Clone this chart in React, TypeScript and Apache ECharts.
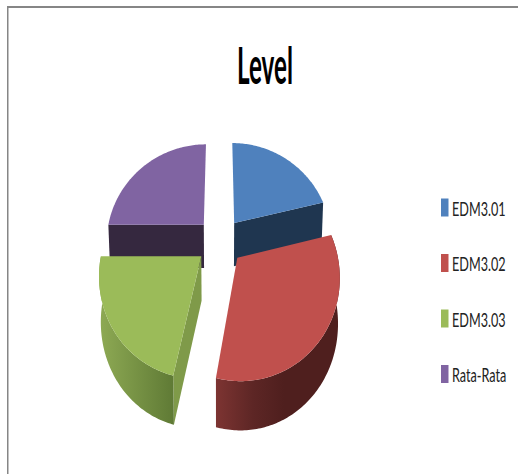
import React, { useEffect, useRef } from "react";
import * as echarts from "echarts";

const titleText = "Level";
const categories = ["EDM3.01", "EDM3.02", "EDM3.03", "Rata-Rata"];
const values = [21.3, 32, 21.7, 25];
const topColors = ["#4f81bd", "#c0504d", "#9bbb59", "#8064a2"];
const drawOrder = [3, 0, 2, 1];

const font = 'Lato, "Open Sans", sans-serif';
const total = values.reduce((a, b) => a + b, 0);
const CX = 220, CY = 241, RX = 98, RY = 97.9, P = 0.158, EXPLODE = 0.24;

function project(u: number, v: number): number[] {
  const d = 1 - P * v;
  return [CX + (RX * u) / d, CY + (RY * v) / d];
}
function lower(u: number, v: number): number[] {
  const [x, y] = project(u, v);
  return [CX + (x - CX) * 0.985, y + 44 + 4.5 * v];
}
function dir(deg: number): number[] {
  const a = (deg * Math.PI) / 180;
  return [Math.sin(a), -Math.cos(a)];
}

function wallFill(i: number): any {
  if (i === 1)
    return new echarts.graphic.LinearGradient(0, 0, 1, 0, [
      { offset: 0, color: "#7d3432" },
      { offset: 0.3, color: "#5d2625" },
      { offset: 0.55, color: "#4f1f1e" },
      { offset: 1, color: "#4f1f1e" },
    ]);
  if (i === 2)
    return new echarts.graphic.LinearGradient(0, 0, 1, 0, [
      { offset: 0, color: "#8eaa54" },
      { offset: 1, color: "#5f7a35" },
    ]);
  return i === 0 ? "#1f3650" : "#35283f";
}

function renderSlice(i: number) {
  return (_params: any, api: any) => {
    const val = api.value(0);
    const before = values.slice(0, i).reduce((a, b) => a + b, 0);
    const start = (before / total) * 360;
    const end = start + (val / total) * 360;
    const [ou, ov] = dir((start + end) / 2);
    const cu = ou * EXPLODE, cv = ov * EXPLODE;
    const rim: number[][] = [];
    const steps = Math.ceil(end - start);
    for (let s = 0; s <= steps; s++) {
      const [du, dv] = dir(start + ((end - start) * s) / steps);
      rim.push([cu + du, cv + dv]);
    }
    const topRim = rim.map(([u, v]) => project(u, v));
    const lowRim = rim.map(([u, v]) => lower(u, v));
    const apexTop = project(cu, cv);
    const apexLow = lower(cu, cv);
    const last = rim.length - 1;
    const children: any[] = [];
    // only the cut faces that turn towards the viewer
    if (i === 2 || i === 3) {
      children.push({
        type: "polygon",
        shape: { points: [apexTop, topRim[0], lowRim[0], apexLow] },
        style: { fill: i === 2 ? "#7f9a49" : "#35283f" },
      });
    }
    if (i === 0) {
      children.push({
        type: "polygon",
        shape: { points: [apexTop, topRim[last], lowRim[last], apexLow] },
        style: { fill: "#1f3650" },
      });
    }
    if (i === 1 || i === 2) {
      children.push({
        type: "polygon",
        shape: { points: topRim.concat(lowRim.slice().reverse()) },
        style: { fill: wallFill(i) },
      });
    }
    children.push({
      type: "polygon",
      shape: { points: [apexTop].concat(topRim) },
      style: { fill: topColors[i] },
    });
    return { type: "group", children };
  };
}

const legendY = [207.5, 263, 318.5, 374];

export default function App() {
  const ref = useRef<HTMLDivElement>(null);
  useEffect(() => {
    const chart = echarts.init(ref.current!, undefined, { renderer: "svg" });
    chart.setOption({
      animation: false,
      backgroundColor: "#ffffff",
      graphic: [
        { type: "rect", silent: true, shape: { x: 7, y: 6, width: 511, height: 2 }, style: { fill: "#868686" } },
        { type: "rect", silent: true, shape: { x: 7, y: 6, width: 1.5, height: 468 }, style: { fill: "#868686" } },
        {
          type: "text",
          x: 265,
          y: 64,
          scaleX: 0.93,
          scaleY: 2,
          style: {
            text: titleText,
            fill: "#000000",
            font: `bold 26px ${font}`,
            textAlign: "center",
            textVerticalAlign: "middle",
          },
        },
        ...categories.flatMap((name, i) => [
          {
            type: "rect",
            silent: true,
            shape: { x: 441, y: legendY[i] - 9, width: 7.5, height: 18 },
            style: { fill: topColors[i] },
          },
          {
            type: "text",
            x: 452,
            y: legendY[i] + 1,
            scaleX: 0.79,
            scaleY: 1.22,
            style: {
              text: name,
              fill: "#222222",
              font: `16px ${font}`,
              textAlign: "left",
              textVerticalAlign: "middle",
            },
          },
        ]),
      ],
      series: drawOrder.map((i) => ({
        type: "custom",
        name: categories[i],
        coordinateSystem: "none",
        data: [[values[i]]],
        itemStyle: { color: topColors[i] },
        renderItem: renderSlice(i),
      })),
    });
    return () => chart.dispose();
  }, []);
  return (
    <div
      ref={ref}
      style={{ position: "absolute", left: 0, top: 0, width: 518, height: 474 }}
    />
  );
}
